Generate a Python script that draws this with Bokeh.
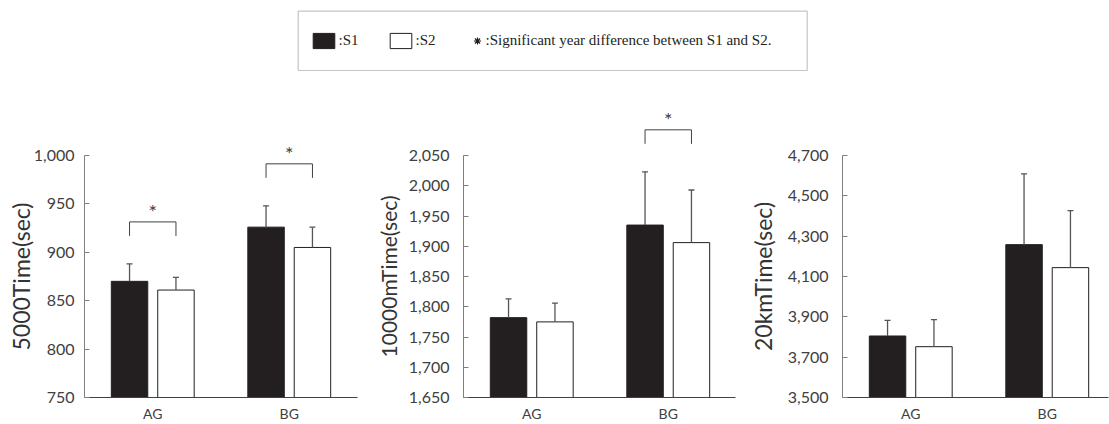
from bokeh.plotting import figure
from bokeh.models import (Range1d, FixedTicker, Whisker, TeeHead, ColumnDataSource,
                          Legend, LegendItem, BoxAnnotation, NumeralTickFormatter)
from bokeh.layouts import column, row
from bokeh.embed import file_html
from bokeh.resources import INLINE
from bokeh.core.properties import value

# ---------------- data ----------------
groups = ["AG", "BG"]
series = ["S1", "S2"]

t5000_s1 = [870, 926]
t5000_s2 = [861, 905]
t5000_s1_sd = [18, 22]
t5000_s2_sd = [13, 21]
sig_5000 = [True, True]

t10000_s1 = [1782, 1935]
t10000_s2 = [1775, 1906]
t10000_s1_sd = [31, 88]
t10000_s2_sd = [31, 87]
sig_10000 = [False, True]

t20k_s1 = [3805, 4258]
t20k_s2 = [3752, 4144]
t20k_s1_sd = [77, 351]
t20k_s2_sd = [134, 283]
sig_20k = [False, False]

y_labels = ["5000Time(sec)", "10000mTime(sec)", "20kmTime(sec)"]
legend_labels = [":S1", ":S2", ":Significant year difference between S1 and S2."]

# ---------------- styling / layout ----------------
S1_COLOR = "#231f20"
EDGE = "#231f20"
ERR = "#555555"
TICK_COL = "#404040"
FONT = "Lato"

LEG_H = 100
TOP_B = 55
FRAME_H = 242
BOT_B = 27
UNIT_PX = 136.5        # pixels per category slot
BAR_W = 0.267
DODGE = 0.17

panels = [
    dict(label=y_labels[0], s1=t5000_s1, s2=t5000_s2, e1=t5000_s1_sd, e2=t5000_s2_sd,
         sig=sig_5000, ymin=750, ymax=1000, step=50, width=370, left=84, right=13,
         tick_std=10, lab_std=-4, lab_fs="23px"),
    dict(label=y_labels[1], s1=t10000_s1, s2=t10000_s2, e1=t10000_s1_sd, e2=t10000_s2_sd,
         sig=sig_10000, ymin=1650, ymax=2050, step=50, width=370, left=93, right=5,
         tick_std=14, lab_std=5, lab_fs="21px"),
    dict(label=y_labels[2], s1=t20k_s1, s2=t20k_s2, e1=t20k_s1_sd, e2=t20k_s2_sd,
         sig=sig_20k, ymin=3500, ymax=4700, step=200, width=369, left=102, right=1,
         tick_std=14, lab_std=8, lab_fs="23px"),
]


def make_panel(cfg):
    ymin, ymax = cfg["ymin"], cfg["ymax"]
    px_per_unit = FRAME_H / (ymax - ymin)
    frame_w = cfg["width"] - cfg["left"] - cfg["right"]
    xend = -0.5 + frame_w / UNIT_PX

    p = figure(width=cfg["width"], height=TOP_B + FRAME_H + BOT_B,
               x_range=Range1d(-0.5, xend), y_range=Range1d(ymin, ymax),
               output_backend="svg", toolbar_location=None,
               min_border_left=cfg["left"], min_border_right=cfg["right"],
               min_border_top=TOP_B, min_border_bottom=BOT_B)
    p.outline_line_color = None
    p.xgrid.visible = False
    p.ygrid.visible = False
    p.background_fill_color = "white"
    p.border_fill_color = "white"

    xs = list(range(len(groups)))
    x1 = [x - DODGE for x in xs]
    x2 = [x + DODGE for x in xs]

    p.vbar(x=x1, top=cfg["s1"], bottom=ymin, width=BAR_W,
           fill_color=S1_COLOR, line_color=EDGE, line_width=1)
    p.vbar(x=x2, top=cfg["s2"], bottom=ymin, width=BAR_W,
           fill_color="white", line_color=EDGE, line_width=1)

    src = ColumnDataSource(dict(
        x=x1 + x2,
        lower=list(cfg["s1"]) + list(cfg["s2"]),
        upper=[v + e for v, e in zip(cfg["s1"], cfg["e1"])] +
              [v + e for v, e in zip(cfg["s2"], cfg["e2"])],
    ))
    w = Whisker(source=src, base="x", lower="lower", upper="upper", dimension="height",
                line_color=ERR, line_width=1.3,
                upper_head=TeeHead(size=6, line_color=ERR, line_width=1.3),
                lower_head=None, level="overlay")
    p.add_layout(w)

    # significance brackets (drawn at overlay level so they may rise above the frame)
    bx, by, sx, sy = [], [], [], []
    for i, s in enumerate(cfg["sig"]):
        if not s:
            continue
        top_err = max(cfg["s1"][i] + cfg["e1"][i], cfg["s2"][i] + cfg["e2"][i])
        leg = top_err + 28 / px_per_unit
        top = leg + 14 / px_per_unit
        bx.append([x1[i], x1[i], x2[i], x2[i]])
        by.append([leg, top, top, leg])
        sx.append(xs[i])
        sy.append(top + 11 / px_per_unit)
    if bx:
        p.multi_line(xs=bx, ys=by, line_color="#404040", line_width=1, level="overlay")
        p.text(x=sx, y=sy, text=["*"] * len(sx), text_align="center",
               text_baseline="middle", text_font=value(FONT),
               text_font_size="20px", text_color="#404040", level="overlay")

    # y axis
    ya = p.yaxis[0]
    ya.ticker = FixedTicker(ticks=list(range(ymin, ymax + 1, cfg["step"])))
    ya.formatter = NumeralTickFormatter(format="0,0")
    ya.axis_line_color = "#7f7f7f"
    ya.major_tick_line_color = "#7f7f7f"
    ya.major_tick_in = 5
    ya.major_tick_out = 0
    ya.minor_tick_line_color = None
    ya.major_label_standoff = cfg["tick_std"]
    ya.major_label_text_font = FONT
    ya.major_label_text_font_size = "16px"
    ya.major_label_text_color = TICK_COL
    ya.axis_label = cfg["label"]
    ya.axis_label_standoff = cfg["lab_std"]
    ya.axis_label_text_font = FONT
    ya.axis_label_text_font_size = cfg["lab_fs"]
    ya.axis_label_text_font_style = "normal"
    ya.axis_label_text_color = "#333333"

    # x axis
    xa = p.xaxis[0]
    xa.ticker = FixedTicker(ticks=xs)
    xa.major_label_overrides = {i: g for i, g in enumerate(groups)}
    xa.axis_line_color = "#404040"
    xa.major_tick_line_color = None
    xa.minor_tick_line_color = None
    xa.major_tick_in = 0
    xa.major_tick_out = 0
    xa.major_label_standoff = 7
    xa.major_label_text_font = FONT
    xa.major_label_text_font_size = "14px"
    xa.major_label_text_color = TICK_COL
    return p


figs = [make_panel(c) for c in panels]

# ---------------- legend strip ----------------
LW = sum(c["width"] for c in panels)
lf = figure(width=LW, height=LEG_H, x_range=Range1d(0, LW), y_range=Range1d(LEG_H, 0),
            output_backend="svg", toolbar_location=None,
            x_axis_location=None, y_axis_location=None,
            min_border=0, min_border_left=0, min_border_right=0,
            min_border_top=0, min_border_bottom=0)
lf.outline_line_color = None
lf.xgrid.visible = False
lf.ygrid.visible = False

lf.add_layout(BoxAnnotation(left=297.7, right=806.7, top=10.7, bottom=70,
                            fill_color=None, line_color="#3a3a3a", line_width=1.2))

nan = float("nan")
r1 = lf.vbar(x=[nan], top=[nan], width=1, fill_color=S1_COLOR, line_color=EDGE)
r2 = lf.vbar(x=[nan], top=[nan], width=1, fill_color="white", line_color=EDGE)
r3 = lf.scatter(x=[nan], y=[nan], marker="asterisk", line_color="#231f20", line_width=1.2)

leg1 = Legend(items=[LegendItem(label=legend_labels[0], renderers=[r1], index=0),
                     LegendItem(label=legend_labels[1], renderers=[r2], index=0)],
              orientation="horizontal", location=(309.6, 50.5),
              glyph_width=27, glyph_height=19, label_standoff=2, spacing=28,
              padding=0, margin=0, border_line_color=None, background_fill_alpha=0,
              label_text_font="Liberation Serif", label_text_font_size="15px",
              label_text_color="#231f20", label_height=19)
leg2 = Legend(items=[LegendItem(label=legend_labels[2], renderers=[r3], index=0)],
              orientation="horizontal", location=(467.5, 50.5),
              glyph_width=18, glyph_height=19, label_standoff=0,
              padding=0, margin=0, border_line_color=None, background_fill_alpha=0,
              label_text_font="Liberation Serif", label_text_font_size="15px",
              label_text_color="#231f20", label_height=19)
lf.add_layout(leg1)
lf.add_layout(leg2)

layout = column(lf, row(*figs, spacing=0), spacing=0)

open("out.html", "w").write(file_html(layout, INLINE))
